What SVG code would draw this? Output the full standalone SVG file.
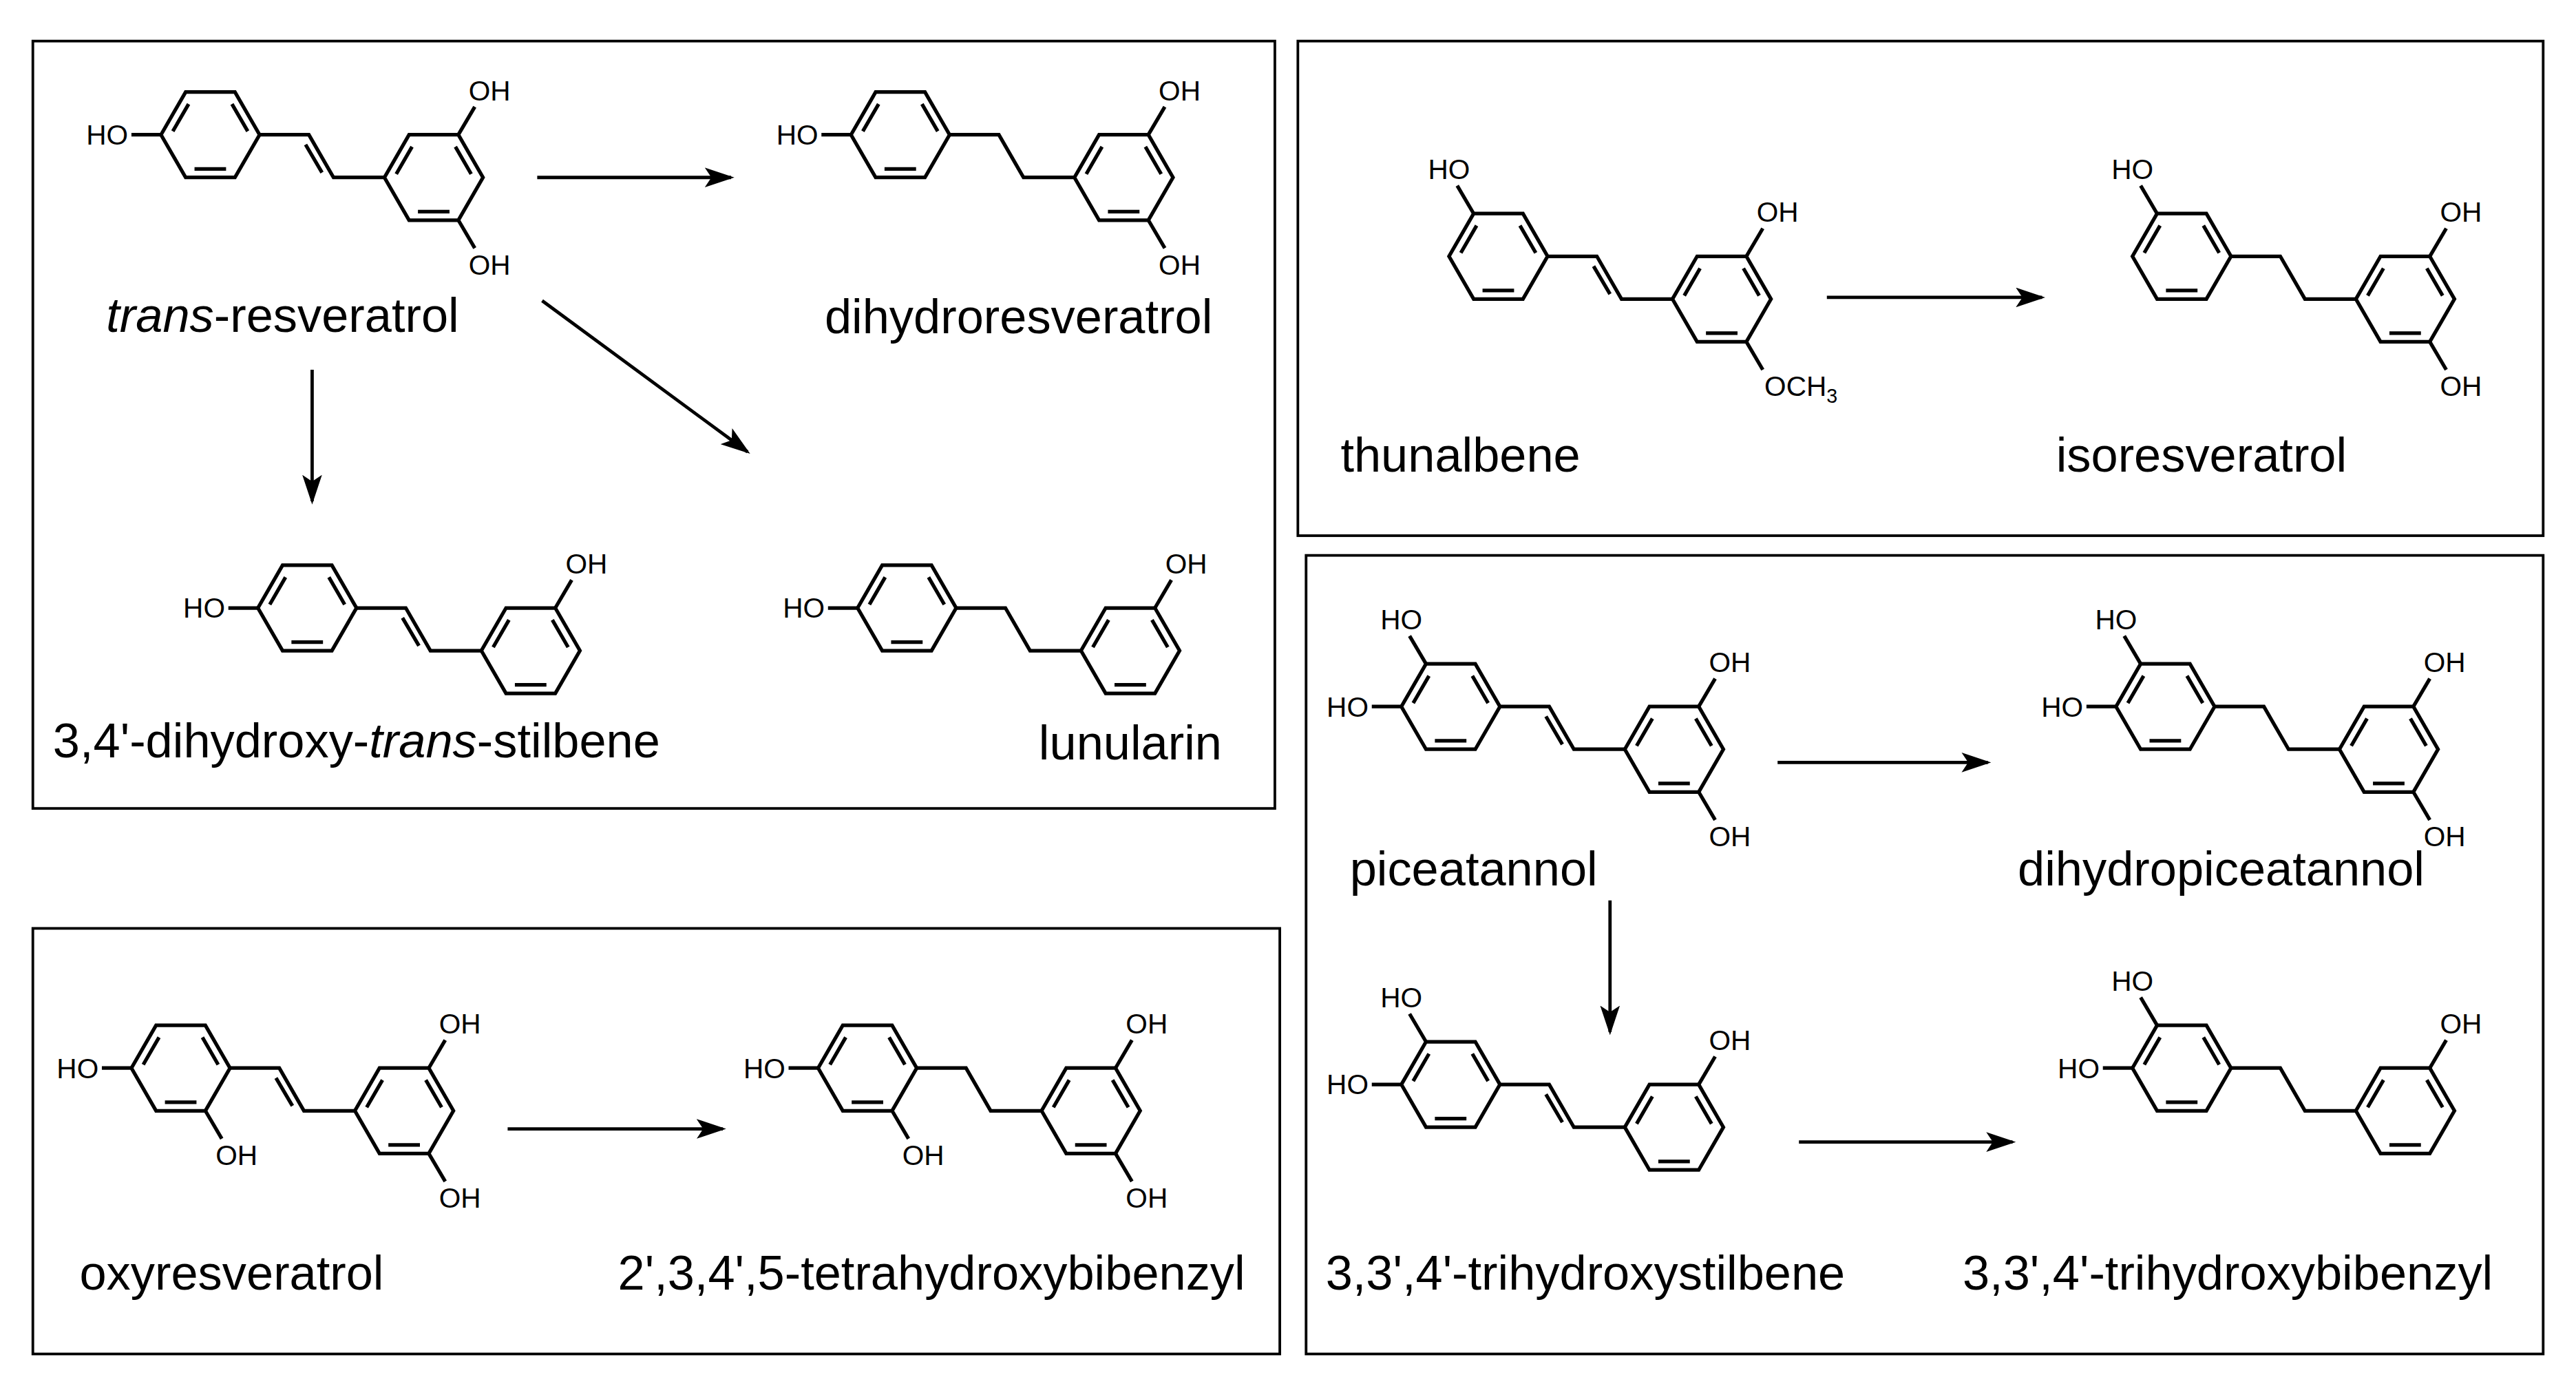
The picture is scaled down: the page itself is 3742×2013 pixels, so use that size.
<svg xmlns="http://www.w3.org/2000/svg" xmlns:xlink="http://www.w3.org/1999/xlink" width="3742" height="2013" viewBox="0 0 3742 2013">
<style>
.b{fill:none;stroke:#000;stroke-width:2.2;stroke-linejoin:miter}
.box{fill:none;stroke:#000;stroke-width:1.6}
.s{font-family:'Liberation Sans',Arial,sans-serif;font-size:17px;fill:#000}
.l{font-family:'Liberation Sans',Arial,sans-serif;font-size:29.5px;fill:#000}
.a{fill:none;stroke:#000;stroke-width:2}
</style>
<defs>
<marker id="ah" markerUnits="userSpaceOnUse" markerWidth="18" markerHeight="12" refX="16" refY="6" orient="auto"><path d="M0,0 L18,6 L0,12 L4,6 Z" fill="#000"/></marker>
<g id="ring" class="b"><polygon points="-30,0 -15,-26 15,-26 30,0 15,26 -15,26"/><path d="M-22.8,-2.1 L-13.2,-18.7 M13.2,-18.7 L22.8,-2.1 M9.6,20.8 L-9.6,20.8"/></g>
<g id="stil"><use xlink:href="#ring"/><use xlink:href="#ring" x="136" y="26"/><path class="b" d="M30,0 L60,0 L75,26 L106,26 M58,6 L68,23"/></g>
<g id="bib"><use xlink:href="#ring"/><use xlink:href="#ring" x="136" y="26"/><path class="b" d="M30,0 L60,0 L75,26 L106,26"/></g>
<g id="L"><path class="b" d="M-30,0 L-48,0"/><text class="s" x="-50" y="6" text-anchor="end">HO</text></g>
<g id="UL"><path class="b" d="M-15,-26 L-25,-43"/><text class="s" x="-30" y="-47" text-anchor="middle">HO</text></g>
<g id="UR"><path class="b" d="M15,-26 L25,-43"/><text class="s" x="34" y="-47" text-anchor="middle">OH</text></g>
<g id="LR"><path class="b" d="M15,26 L25,43"/><text class="s" x="34" y="59" text-anchor="middle">OH</text></g>
</defs>
<rect width="3742" height="2013" fill="#fff"/>
<g transform="scale(2.3865)">
<g id="boxes"><rect class="box" x="20" y="25" width="756" height="467"/><rect class="box" x="790" y="25" width="758" height="301"/><rect class="box" x="20" y="565" width="759" height="259"/><rect class="box" x="795" y="338" width="753" height="486"/></g>
<g id="trans-resveratrol"><use xlink:href="#stil" x="128" y="82"/><use xlink:href="#L" x="128" y="82"/><use xlink:href="#UR" x="264" y="108"/><use xlink:href="#LR" x="264" y="108"/><text class="l" x="172" y="202" text-anchor="middle"><tspan font-style="italic">trans</tspan>-resveratrol</text></g>
<g id="dihydroresveratrol"><use xlink:href="#bib" x="548" y="82"/><use xlink:href="#L" x="548" y="82"/><use xlink:href="#UR" x="684" y="108"/><use xlink:href="#LR" x="684" y="108"/><text class="l" x="620" y="203" text-anchor="middle">dihydroresveratrol</text></g>
<g id="dihydroxystilbene"><use xlink:href="#stil" x="187" y="370"/><use xlink:href="#L" x="187" y="370"/><use xlink:href="#UR" x="323" y="396"/><text class="l" x="217" y="461" text-anchor="middle">3,4'-dihydroxy-<tspan font-style="italic">trans</tspan>-stilbene</text></g>
<g id="lunularin"><use xlink:href="#bib" x="552" y="370"/><use xlink:href="#L" x="552" y="370"/><use xlink:href="#UR" x="688" y="396"/><text class="l" x="688" y="462" text-anchor="middle">lunularin</text></g>
<g id="thunalbene"><use xlink:href="#stil" x="912" y="156"/><use xlink:href="#UL" x="912" y="156"/><use xlink:href="#UR" x="1048" y="182"/><path class="b" d="M1063,208 L1073,225"/><text class="s" x="1074" y="241">OCH<tspan font-size="12" dy="4">3</tspan></text><text class="l" x="889" y="287" text-anchor="middle">thunalbene</text></g>
<g id="isoresveratrol"><use xlink:href="#bib" x="1328" y="156"/><use xlink:href="#UL" x="1328" y="156"/><use xlink:href="#UR" x="1464" y="182"/><use xlink:href="#LR" x="1464" y="182"/><text class="l" x="1340" y="287" text-anchor="middle">isoresveratrol</text></g>
<g id="oxyresveratrol"><use xlink:href="#stil" x="110" y="650"/><use xlink:href="#L" x="110" y="650"/><use xlink:href="#LR" x="110" y="650"/><use xlink:href="#UR" x="246" y="676"/><use xlink:href="#LR" x="246" y="676"/><text class="l" x="141" y="785" text-anchor="middle">oxyresveratrol</text></g>
<g id="tetrahydroxybibenzyl"><use xlink:href="#bib" x="528" y="650"/><use xlink:href="#L" x="528" y="650"/><use xlink:href="#LR" x="528" y="650"/><use xlink:href="#UR" x="664" y="676"/><use xlink:href="#LR" x="664" y="676"/><text class="l" x="567" y="785" text-anchor="middle">2',3,4',5-tetrahydroxybibenzyl</text></g>
<g id="piceatannol"><use xlink:href="#stil" x="883" y="430"/><use xlink:href="#L" x="883" y="430"/><use xlink:href="#UL" x="883" y="430"/><use xlink:href="#UR" x="1019" y="456"/><use xlink:href="#LR" x="1019" y="456"/><text class="l" x="897" y="539" text-anchor="middle">piceatannol</text></g>
<g id="dihydropiceatannol"><use xlink:href="#bib" x="1318" y="430"/><use xlink:href="#L" x="1318" y="430"/><use xlink:href="#UL" x="1318" y="430"/><use xlink:href="#UR" x="1454" y="456"/><use xlink:href="#LR" x="1454" y="456"/><text class="l" x="1352" y="539" text-anchor="middle">dihydropiceatannol</text></g>
<g id="trihydroxystilbene"><use xlink:href="#stil" x="883" y="660"/><use xlink:href="#L" x="883" y="660"/><use xlink:href="#UL" x="883" y="660"/><use xlink:href="#UR" x="1019" y="686"/><text class="l" x="965" y="785" text-anchor="middle">3,3',4'-trihydroxystilbene</text></g>
<g id="trihydroxybibenzyl"><use xlink:href="#bib" x="1328" y="650"/><use xlink:href="#L" x="1328" y="650"/><use xlink:href="#UL" x="1328" y="650"/><use xlink:href="#UR" x="1464" y="676"/><text class="l" x="1356" y="785" text-anchor="middle">3,3',4'-trihydroxybibenzyl</text></g>
<g id="connectors">
<path class="a" marker-end="url(#ah)" d="M327,108 L445,108"/>
<path class="a" marker-end="url(#ah)" d="M330,183 L455,275"/>
<path class="a" marker-end="url(#ah)" d="M190,225 L190,305"/>
<path class="a" marker-end="url(#ah)" d="M1112,181 L1243,181"/>
<path class="a" marker-end="url(#ah)" d="M309,687 L440,687"/>
<path class="a" marker-end="url(#ah)" d="M1082,464 L1210,464"/>
<path class="a" marker-end="url(#ah)" d="M980,548 L980,628"/>
<path class="a" marker-end="url(#ah)" d="M1095,695 L1225,695"/>
</g>
</g>
</svg>
